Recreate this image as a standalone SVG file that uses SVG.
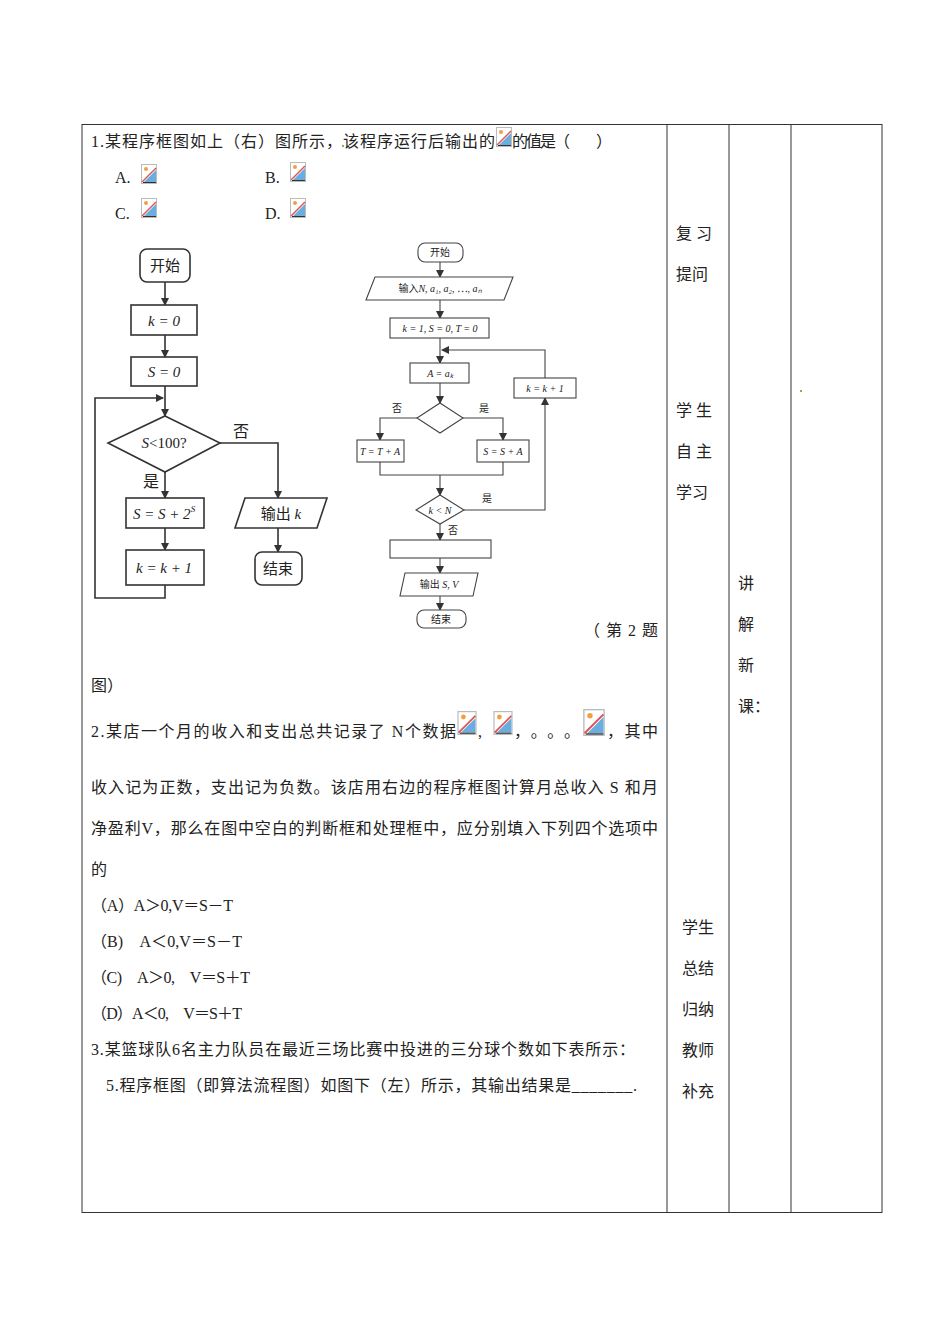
<svg xmlns="http://www.w3.org/2000/svg" width="950" height="1344" viewBox="0 0 950 1344">
<defs>
<style>
.t{font-family:"Liberation Serif","Noto Sans CJK SC",serif;font-size:16px;fill:#222}
.f{font-family:"Liberation Serif","Noto Sans CJK SC",serif;font-size:15px;fill:#222;text-anchor:middle}
.s{font-family:"Liberation Serif","Noto Sans CJK SC",serif;font-size:10px;fill:#222;text-anchor:middle}
.b{fill:#fff;stroke:#333;stroke-width:1.6}
.c{fill:none;stroke:#333;stroke-width:1.6}
.c2{fill:none;stroke:#444;stroke-width:1.1}
.b2{fill:#fff;stroke:#444;stroke-width:1.1}
</style>
<marker id="a" markerWidth="8" markerHeight="8" refX="7" refY="4" orient="auto" markerUnits="userSpaceOnUse"><path d="M0,0L8,4L0,8z" fill="#333"/></marker>
<symbol id="img" viewBox="0 0 16 20"><rect x="0.5" y="0.5" width="15" height="19" fill="#fff" stroke="#bbb"/><path d="M15,6L15,18L3,18z" fill="#6aaee0"/><line x1="1" y1="18" x2="15" y2="4" stroke="#d55" stroke-width="1.5"/><circle cx="5" cy="5" r="2" fill="#f0a040"/><line x1="2" y1="18.5" x2="15" y2="18.5" stroke="#333"/></symbol>
</defs>
<rect width="950" height="1344" fill="#fff"/>
<g id="table" fill="none" stroke="#333" stroke-width="1">
<rect x="82" y="124.5" width="800" height="1088"/>
<line x1="667" y1="124" x2="667" y2="1212"/>
<line x1="729" y1="124" x2="729" y2="1212"/>
<line x1="791" y1="124" x2="791" y2="1212"/>
</g>
<g id="text">
<text class="t" x="91" y="147" textLength="404" lengthAdjust="spacing">1.某程序框图如上（右）图所示，该程序运行后输出的</text>
<use href="#img" x="496" y="127" width="16" height="20"/>
<text class="t" x="512" y="147" textLength="100" lengthAdjust="spacing">的值是（　　）</text>
<text class="t" x="115" y="183">A.</text><use href="#img" x="141" y="164" width="16" height="20"/>
<text class="t" x="265" y="183">B.</text><use href="#img" x="290" y="162" width="16" height="20"/>
<text class="t" x="115" y="219">C.</text><use href="#img" x="141" y="198" width="16" height="20"/>
<text class="t" x="265" y="219">D.</text><use href="#img" x="290" y="198" width="16" height="20"/>
<text class="t" x="584" y="636" textLength="74" lengthAdjust="spacing">（ 第 2 题</text>
<text class="t" x="91" y="691">图）</text>
<text class="t" x="91" y="737" textLength="365" lengthAdjust="spacing">2.某店一个月的收入和支出总共记录了 N个数据</text>
<use href="#img" x="457" y="711" width="20" height="24"/>
<text class="t" x="478" y="737">,</text>
<use href="#img" x="493" y="711" width="20" height="24"/>
<text class="t" x="514" y="737" textLength="66" lengthAdjust="spacing">，。。。</text>
<use href="#img" x="583" y="709" width="22" height="27"/>
<text class="t" x="607" y="737" textLength="51" lengthAdjust="spacing">，其中</text>
<text class="t" x="91" y="793" textLength="567" lengthAdjust="spacing">收入记为正数，支出记为负数。该店用右边的程序框图计算月总收入 S 和月</text>
<text class="t" x="91" y="834" textLength="567" lengthAdjust="spacing">净盈利V，那么在图中空白的判断框和处理框中，应分别填入下列四个选项中</text>
<text class="t" x="91" y="875">的</text>
<text class="t" x="91" y="911" textLength="142" lengthAdjust="spacing">（A）A＞0,V＝S－T</text>
<text class="t" x="91" y="947" textLength="151" lengthAdjust="spacing">（B)　A＜0,V＝S－T</text>
<text class="t" x="91" y="983" textLength="159" lengthAdjust="spacing">（C)　A＞0,　V＝S＋T</text>
<text class="t" x="91" y="1019" textLength="151" lengthAdjust="spacing">（D）A＜0,　V＝S＋T</text>
<text class="t" x="91" y="1055" textLength="544" lengthAdjust="spacing">3.某篮球队6名主力队员在最近三场比赛中投进的三分球个数如下表所示：</text>
<text class="t" x="106" y="1091" textLength="531" lengthAdjust="spacing">5.程序框图（即算法流程图）如图下（左）所示，其输出结果是_______.</text>
<text class="t" x="676" y="239">复 习</text>
<text class="t" x="676" y="280">提问</text>
<text class="t" x="676" y="416">学 生</text>
<text class="t" x="676" y="457">自 主</text>
<text class="t" x="676" y="498">学习</text>
<text class="t" x="738" y="589">讲</text>
<text class="t" x="738" y="630">解</text>
<text class="t" x="738" y="671">新</text>
<text class="t" x="738" y="712">课：</text>
<text class="t" x="682" y="933">学生</text>
<text class="t" x="682" y="974">总结</text>
<text class="t" x="682" y="1015">归纳</text>
<text class="t" x="682" y="1056">教师</text>
<text class="t" x="682" y="1097">补充</text>
<rect x="342" y="145" width="2" height="2" fill="#9a4"/>
<rect x="800" y="390" width="2" height="2" fill="#9a4"/>
</g>
<g id="connectors">
<line class="c" x1="165" y1="282" x2="165" y2="305" marker-end="url(#a)"/>
<line class="c" x1="165" y1="335" x2="165" y2="357" marker-end="url(#a)"/>
<line class="c" x1="165" y1="386" x2="165" y2="416" marker-end="url(#a)"/>
<polyline class="c" points="165,585 165,598 95,598 95,398 163,398" marker-end="url(#a)"/>
<line class="c" x1="165" y1="472" x2="165" y2="498" marker-end="url(#a)"/>
<line class="c" x1="165" y1="528" x2="165" y2="550" marker-end="url(#a)"/>
<polyline class="c" points="220,443 278,443 278,498" marker-end="url(#a)"/>
<line class="c" x1="278" y1="528" x2="278" y2="552" marker-end="url(#a)"/>
<line class="c2" x1="440" y1="262" x2="440" y2="277" marker-end="url(#a)"/>
<line class="c2" x1="440" y1="300" x2="440" y2="318" marker-end="url(#a)"/>
<line class="c2" x1="440" y1="338" x2="440" y2="363" marker-end="url(#a)"/>
<line class="c2" x1="440" y1="383" x2="440" y2="403" marker-end="url(#a)"/>
<polyline class="c2" points="417,418 380,418 380,440" marker-end="url(#a)"/>
<polyline class="c2" points="463,418 503,418 503,440" marker-end="url(#a)"/>
<polyline class="c2" points="380,462 380,475 503,475 503,462"/>
<line class="c2" x1="440" y1="475" x2="440" y2="495" marker-end="url(#a)"/>
<polyline class="c2" points="464,510 545,510 545,398" marker-end="url(#a)"/>
<polyline class="c2" points="545,378 545,350 442,350" marker-end="url(#a)"/>
<line class="c2" x1="440" y1="524" x2="440" y2="540" marker-end="url(#a)"/>
<line class="c2" x1="440" y1="558" x2="440" y2="573" marker-end="url(#a)"/>
<line class="c2" x1="440" y1="596" x2="440" y2="610" marker-end="url(#a)"/>
</g>
<g id="n1"><rect class="b" x="140" y="249" width="50" height="33" rx="7"/><text class="f" x="165" y="271">开始</text></g>
<g id="n2"><rect class="b" x="131" y="305" width="66" height="30"/><text class="f" x="164" y="326" font-style="italic">k = 0</text></g>
<g id="n3"><rect class="b" x="131" y="357" width="66" height="29"/><text class="f" x="164" y="377" font-style="italic">S = 0</text></g>
<g id="n4"><polygon class="b" points="165,416 220,443 165,472 108,443"/><text class="f" x="164" y="448"><tspan font-style="italic">S</tspan>&lt;100?</text></g>
<g id="n5"><rect class="b" x="126" y="498" width="78" height="30"/><text class="f" x="164" y="519" font-style="italic">S = S + 2<tspan font-size="9" dy="-7">S</tspan></text></g>
<g id="n6"><rect class="b" x="126" y="550" width="78" height="35"/><text class="f" x="164" y="573" font-style="italic">k = k + 1</text></g>
<g id="n7"><polygon class="b" points="245,498 327,498 317,528 235,528"/><text class="f" x="281" y="519">输出 <tspan font-style="italic">k</tspan></text></g>
<g id="n8"><rect class="b" x="255" y="552" width="47" height="33" rx="7"/><text class="f" x="278" y="574">结束</text></g>
<text class="t" x="233" y="437" font-size="15">否</text>
<text class="t" x="143" y="487" font-size="15">是</text>
<g id="m1"><rect class="b2" x="418" y="243" width="45" height="19" rx="7"/><text class="s" x="440" y="256">开始</text></g>
<g id="m2"><polygon class="b2" points="375,277 513,277 504,300 366,300"/><text class="s" x="440" y="292">输入<tspan font-style="italic">N, a₁, a₂, ⋯, aₙ</tspan></text></g>
<g id="m3"><rect class="b2" x="390" y="318" width="99" height="20"/><text class="s" x="440" y="332" font-style="italic">k = 1, S = 0, T = 0</text></g>
<g id="m4"><rect class="b2" x="410" y="363" width="59" height="20"/><text class="s" x="440" y="377" font-style="italic">A = aₖ</text></g>
<g id="m5"><polygon class="b2" points="440,403 463,418 440,433 417,418"/></g>
<g id="m6"><rect class="b2" x="357" y="440" width="47" height="22"/><text class="s" x="380" y="455" font-style="italic">T = T + A</text></g>
<g id="m7"><rect class="b2" x="477" y="440" width="52" height="22"/><text class="s" x="503" y="455" font-style="italic">S = S + A</text></g>
<g id="m8"><polygon class="b2" points="440,495 464,510 440,524 416,510"/><text class="s" x="440" y="514" font-style="italic">k &lt; N</text></g>
<g id="m9"><rect class="b2" x="514" y="378" width="62" height="20"/><text class="s" x="545" y="392" font-style="italic">k = k + 1</text></g>
<g id="m10"><rect class="b2" x="390" y="540" width="101" height="18"/></g>
<g id="m11"><polygon class="b2" points="405,573 478,573 473,596 400,596"/><text class="s" x="439" y="588">输出 <tspan font-style="italic">S, V</tspan></text></g>
<g id="m12"><rect class="b2" x="417" y="610" width="49" height="18" rx="7"/><text class="s" x="441" y="623">结束</text></g>
<text class="s" x="397" y="412">否</text>
<text class="s" x="484" y="412">是</text>
<text class="s" x="487" y="502">是</text>
<text class="s" x="453" y="534">否</text>
</svg>
